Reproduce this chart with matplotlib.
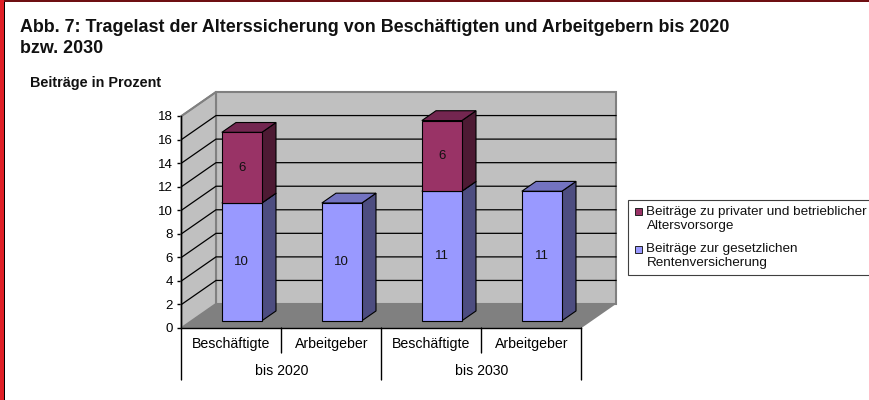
import matplotlib
matplotlib.use('Agg')
import matplotlib.pyplot as plt
from matplotlib.patches import Polygon, Rectangle

plt.rcParams['font.family'] = ['Liberation Sans', 'DejaVu Sans']

# Data
groups = ['bis 2020', 'bis 2030']
categories = ['Beschäftigte', 'Arbeitgeber', 'Beschäftigte', 'Arbeitgeber']
gesetzlich = [10, 10, 11, 11]
privat = [6, 0, 6, 0]
y_ticks = [0, 2, 4, 6, 8, 10, 12, 14, 16, 18]
title = 'Abb. 7: Tragelast der Alterssicherung von Beschäftigten und Arbeitgebern bis 2020\nbzw. 2030'
y_title = 'Beiträge in Prozent'
label_privat = 'Beiträge zu privater und betrieblicher\nAltersvorsorge'
label_gesetzlich = 'Beiträge zur gesetzlichen\nRentenversicherung'

W, H = 870, 400
X0, X1, Y18, Y0 = 181.5, 581.5, 116, 328
DX = 34.5 / 100.0  # depth shift in category units
DY = 24 / ((Y0 - Y18) / 18.0)  # depth shift in value units


def proj(x, y, z):
    return (x + z * DX, y + z * DY)


fig = plt.figure(figsize=(W / 100, H / 100), dpi=100)
# frame of the original page: dark strip on top, red strip with black edge on the left
fig.patches.append(Rectangle((4 / W, 1 - 2 / H), 1, 2 / H, transform=fig.transFigure, color='#6e0f12', lw=0))
fig.patches.append(Rectangle((0, 0), 4 / W, 1, transform=fig.transFigure, color='#e01f26', lw=0))
fig.patches.append(Rectangle((4 / W, 0), 1 / W, 1 - 2 / H, transform=fig.transFigure, color='black', lw=0))

ax = fig.add_axes([X0 / W, 1 - Y0 / H, (X1 - X0) / W, (Y0 - Y18) / H])
ax.set_xlim(0, 4)
ax.set_ylim(0, 18)
ax.patch.set_visible(False)
for s in ['top', 'right']:
    ax.spines[s].set_visible(False)
for s in ['left', 'bottom']:
    ax.spines[s].set_linewidth(1)
    ax.spines[s].set_zorder(6)


def face(pts, color, z=2, ec='none', lw=0):
    ax.add_patch(Polygon(pts, closed=True, facecolor=color, edgecolor=ec, lw=lw, zorder=z, clip_on=False))


# walls and floor
face([proj(0, 0, 1), proj(4, 0, 1), proj(4, 18, 1), proj(0, 18, 1)], '#c0c0c0', ec='#808080', lw=1.5)
face([proj(0, 0, 0), proj(0, 0, 1), proj(0, 18, 1), proj(0, 18, 0)], '#c0c0c0', ec='#808080', lw=1.5)
face([proj(0, 0, 0), proj(4, 0, 0), proj(4, 0, 1), proj(0, 0, 1)], '#808080')

# gridlines on both walls
for v in y_ticks[1:-1]:
    ax.plot(*zip(proj(0, v, 0), proj(0, v, 1), proj(4, v, 1)), color='black', lw=0.9, zorder=3, clip_on=False)
ax.plot(*zip(proj(0, 18, 0), proj(0, 18, 1)), color='#808080', lw=1.2, zorder=3, clip_on=False)


def bar3d(i, bottom, top, front, side, lid):
    x0, x1 = i + 0.3, i + 0.7
    z0, z1 = 0.3, 0.71
    ec = '#000000'
    face([proj(x1, bottom, z0), proj(x1, bottom, z1), proj(x1, top, z1), proj(x1, top, z0)], side, 4, ec, 0.8)
    face([proj(x0, top, z0), proj(x1, top, z0), proj(x1, top, z1), proj(x0, top, z1)], lid, 4, ec, 0.8)
    face([proj(x0, bottom, z0), proj(x1, bottom, z0), proj(x1, top, z0), proj(x0, top, z0)], front, 5, ec, 0.8)
    cx, cy = proj((x0 + x1) / 2, (bottom + top) / 2, z0)
    ax.text(cx, cy, str(top - bottom), ha='center', va='center', fontsize=9.5, color='#111111', zorder=7)


for i in range(len(categories)):
    bar3d(i, 0, gesetzlich[i], '#9999ff', '#4d4d80', '#7373c0')
    if privat[i] > 0:
        bar3d(i, gesetzlich[i], gesetzlich[i] + privat[i], '#993366', '#4d1a33', '#732650')

# y axis
ax.set_yticks(y_ticks)
ax.tick_params(axis='y', length=3, width=1, labelsize=9.5, pad=3, colors='black')

# two level category axis
ax.set_xticks([])
tr = ax.get_xaxis_transform()
for i, c in enumerate(categories):
    ax.annotate(c, xy=(i + 0.5, 0), xycoords=tr, xytext=(0, -16), textcoords='offset pixels',
                ha='center', va='center', fontsize=10.2)
for j, g in enumerate(groups):
    ax.annotate(g, xy=(2 * j + 1, 0), xycoords=tr, xytext=(0, -43), textcoords='offset pixels',
                ha='center', va='center', fontsize=10.2)
for x, length in [(0, 52), (1, 25), (2, 52), (3, 25), (4, 52)]:
    ax.annotate('', xy=(x, 0), xycoords=tr, xytext=(x, -length / 100 * 72),
                textcoords=('data', 'offset points'), arrowprops=dict(arrowstyle='-', lw=1, color='black', shrinkA=0, shrinkB=0))

fig.text(20 / W, 1 - 18.5 / H, title, ha='left', va='top', fontsize=12.85, fontweight='bold', color='#111111', linespacing=1.32)
fig.text(30 / W, 1 - 83 / H, y_title, ha='left', va='center', fontsize=10.4, fontweight='bold', color='#111111')

# legend box is cut by the right edge of the picture
fig.patches.append(Rectangle((628.5 / W, 1 - 275 / H), 260 / W, 75 / H, transform=fig.transFigure,
                             facecolor='white', edgecolor='#404040', lw=0.8))
for y_px, col, lab in [(212, '#993366', label_privat), (249, '#9999ff', label_gesetzlich)]:
    fig.patches.append(Rectangle((635 / W, 1 - (y_px + 3.5) / H), 7 / W, 7 / H, transform=fig.transFigure,
                                 facecolor=col, edgecolor='#222222', lw=0.7))
    fig.text(646.5 / W, 1 - (y_px - 6) / H, lab, ha='left', va='top', fontsize=9.7, color='#111111', linespacing=1.25)

fig.savefig('out.png', dpi=100)
